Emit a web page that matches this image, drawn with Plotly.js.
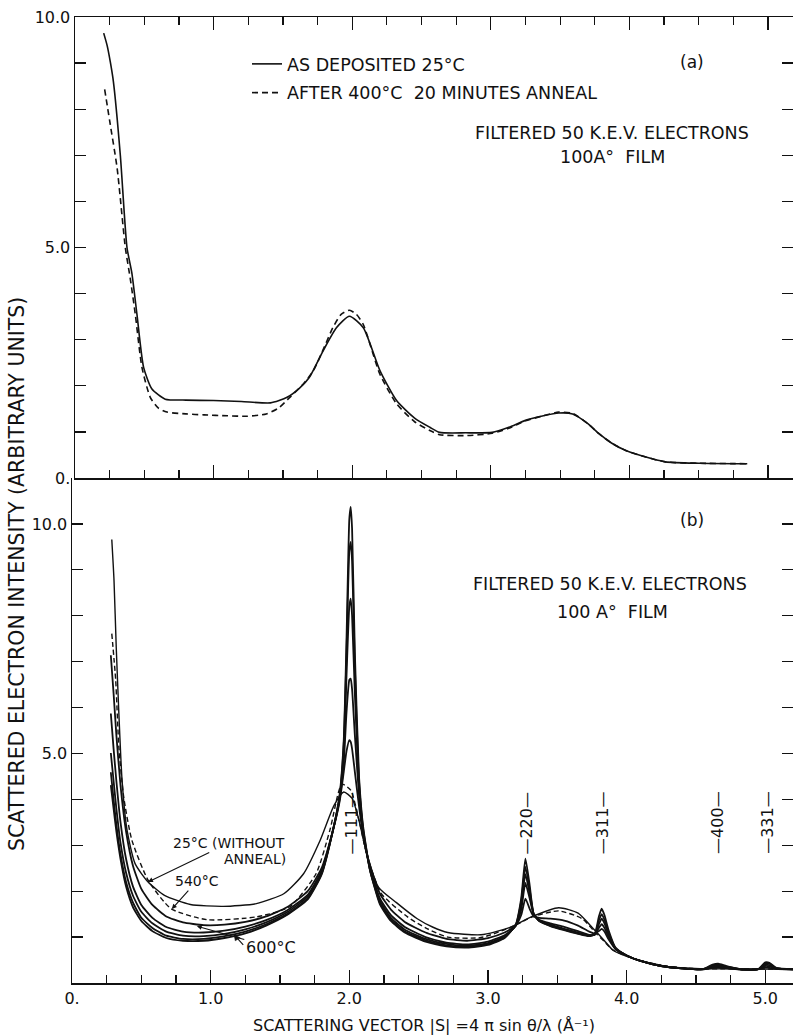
<!DOCTYPE html>
<html><head><meta charset="utf-8">
<script src="https://cdn.plot.ly/plotly-3.0.1.min.js"></script>
<style>html,body{margin:0;padding:0;background:#fff}</style>
</head><body><div id="chart" style="width:793px;height:1036px"></div>
<script>
// ---------- Panel (a) ----------
var topX_asDeposited = [0.207,0.232,0.255,0.277,0.327,0.375,0.41,0.447,0.495,0.555,0.651,0.8,1.0,1.2,1.41,1.53,1.62,1.69,1.79,1.886,1.98,2.08,2.2,2.32,2.45,2.56,2.63,2.82,3.01,3.13,3.25,3.38,3.49,3.59,3.7,3.78,3.87,3.97,4.1,4.26,4.5,4.85];
var topY_asDeposited = [9.65,9.38,9.02,8.6,7.0,5.0,4.45,3.55,2.4,1.93,1.71,1.69,1.68,1.66,1.63,1.75,1.95,2.18,2.76,3.26,3.51,3.26,2.33,1.68,1.3,1.10,0.99,0.98,0.99,1.1,1.25,1.35,1.41,1.39,1.18,0.96,0.76,0.60,0.47,0.35,0.32,0.31];
var topX_annealed = [0.214,0.25,0.304,0.363,0.40,0.435,0.483,0.543,0.6,0.663,0.8,0.93,1.1,1.24,1.38,1.47,1.55,1.65,1.72,1.80,1.86,1.92,1.98,2.03,2.08,2.2,2.32,2.45,2.56,2.63,2.82,3.01,3.13,3.25,3.38,3.49,3.59,3.7,3.78,3.87,3.97,4.1,4.26,4.5,4.85];
var topY_annealed = [8.43,7.75,6.72,5.0,4.3,3.55,2.4,1.75,1.52,1.43,1.39,1.37,1.35,1.34,1.39,1.52,1.75,2.05,2.33,2.85,3.26,3.55,3.64,3.55,3.33,2.25,1.61,1.22,1.03,0.94,0.92,0.97,1.08,1.24,1.35,1.43,1.40,1.18,0.96,0.76,0.60,0.47,0.35,0.32,0.31];

// ---------- Panel (b) ----------
var botX_25C = [0.287,0.303,0.319,0.338,0.361,0.397,0.455,0.549,0.667,0.854,1.09,1.33,1.53,1.67,1.79,1.89,1.96,2.02,2.07,2.12,2.21,2.34,2.49,2.6,2.71,2.95,3.15,3.32,3.51,3.65,3.76,3.84,3.90,4.05,4.29,4.53,4.8,5.2];
var botY_25C = [9.66,8.77,7.32,5.87,4.42,3.33,2.60,2.20,1.91,1.71,1.67,1.73,1.95,2.38,3.11,3.87,4.16,4.02,3.54,2.89,2.09,1.75,1.40,1.22,1.10,1.05,1.2,1.45,1.64,1.52,1.18,0.92,0.72,0.53,0.36,0.31,0.31,0.30];
var botX_dashed = [0.287,0.315,0.338,0.373,0.432,0.549,0.714,0.972,1.33,1.57,1.76,1.86,1.946,2.01,2.07,2.13,2.23,2.42,2.55,2.71,2.95,3.17,3.32,3.51,3.68,3.78,3.84,3.90,4.05,4.29,4.53,4.8,5.2];
var botY_dashed = [7.61,6.6,5.14,4.05,3.11,2.24,1.62,1.38,1.44,1.66,2.38,3.33,4.33,4.2,3.54,2.75,1.95,1.44,1.2,1.0,0.99,1.22,1.44,1.57,1.40,1.08,0.9,0.72,0.53,0.36,0.31,0.31,0.30];

var botX_annealed = [0.28,0.30,0.32,0.35,0.39,0.44,0.50,0.58,0.68,0.80,0.95,1.10,1.25,1.40,1.55,1.70,1.80,1.88,1.93,1.96,1.98,2.00,2.01,2.02,2.04,2.07,2.10,2.15,2.22,2.30,2.40,2.55,2.70,2.85,3.00,3.12,3.20,3.24,3.27,3.30,3.33,3.37,3.45,3.55,3.65,3.73,3.77,3.80,3.82,3.84,3.87,3.92,4.00,4.10,4.25,4.40,4.55,4.62,4.66,4.72,4.85,4.95,5.00,5.03,5.08,5.20];
var botY_annealC = [7.14,6.3,5.4,4.3,3.3,2.55,2.05,1.7,1.45,1.32,1.26,1.27,1.33,1.45,1.65,2.0,2.5,3.3,3.95,4.6,5.05,5.29,5.25,5.1,4.6,3.85,3.2,2.55,1.95,1.6,1.33,1.1,0.96,0.92,0.98,1.1,1.25,1.48,1.84,1.62,1.45,1.42,1.4,1.36,1.25,1.12,1.08,1.13,1.18,1.12,0.95,0.74,0.6,0.48,0.37,0.32,0.3,0.33,0.34,0.32,0.29,0.3,0.34,0.33,0.31,0.3];
var botY_annealD = [5.87,5.1,4.4,3.5,2.7,2.1,1.7,1.42,1.22,1.12,1.10,1.14,1.23,1.37,1.58,1.92,2.45,3.3,4.0,4.8,5.9,6.6,6.63,6.4,5.4,4.1,3.25,2.5,1.85,1.48,1.22,1.0,0.88,0.84,0.9,1.04,1.24,1.6,2.18,1.85,1.5,1.38,1.3,1.22,1.13,1.05,1.05,1.2,1.28,1.2,1.0,0.74,0.6,0.48,0.37,0.32,0.3,0.34,0.36,0.33,0.29,0.3,0.37,0.36,0.31,0.3];
var botY_annealE = [5.01,4.4,3.8,3.05,2.4,1.9,1.55,1.3,1.12,1.03,1.02,1.07,1.17,1.32,1.54,1.88,2.4,3.3,4.05,5.0,6.7,8.2,8.37,8.0,6.3,4.3,3.3,2.45,1.8,1.42,1.16,0.96,0.85,0.81,0.87,1.01,1.25,1.7,2.37,1.95,1.5,1.36,1.27,1.18,1.1,1.04,1.05,1.28,1.4,1.3,1.05,0.75,0.6,0.48,0.37,0.32,0.3,0.36,0.38,0.35,0.29,0.3,0.4,0.39,0.32,0.3];
var botY_annealF = [4.59,4.0,3.45,2.8,2.2,1.75,1.42,1.2,1.03,0.96,0.96,1.02,1.12,1.28,1.5,1.84,2.38,3.3,4.05,5.2,7.2,9.4,9.61,9.2,6.9,4.4,3.35,2.45,1.75,1.38,1.12,0.93,0.82,0.79,0.85,0.99,1.26,1.78,2.53,2.05,1.5,1.35,1.25,1.16,1.08,1.03,1.06,1.36,1.5,1.38,1.1,0.76,0.6,0.48,0.37,0.32,0.3,0.38,0.40,0.36,0.29,0.3,0.43,0.42,0.32,0.3];
var botY_annealG = [4.31,3.8,3.3,2.7,2.1,1.65,1.35,1.13,0.98,0.92,0.92,0.98,1.08,1.25,1.48,1.82,2.36,3.3,4.1,5.3,7.5,10.1,10.37,9.9,7.2,4.5,3.4,2.45,1.72,1.35,1.1,0.9,0.8,0.77,0.83,0.98,1.27,1.85,2.71,2.15,1.5,1.35,1.24,1.15,1.07,1.02,1.07,1.45,1.62,1.48,1.15,0.77,0.6,0.48,0.37,0.32,0.3,0.40,0.42,0.37,0.29,0.3,0.45,0.44,0.33,0.3];

var peakLabels = ['111','220','311','400','331'];
var peakS = [2.017,3.28,3.825,4.66,5.02];

var xTickVals = [0,1,2,3,4,5];
var xTickText = ['0.','1.0','2.0','3.0','4.0','5.0'];
var yTopTickVals = [0,5,10];
var yTopTickText = ['0.','5.0','10.0'];
var yBotTickVals = [5,10];
var yBotTickText = ['5.0','10.0'];

// ---------- helpers for pixel placement of text ----------
var W = 793, H = 1036, ML = 72, MR = 0, MT = 17, MB = 53;
function PX(px){ return (px - ML) / (W - ML - MR); }
function PY(py){ return (H - MB - py) / (H - MT - MB); }
var splitY = PY(478);
var XS = (W - ML - MR) / 5.2;          // px per x unit (bottom panel)
var YS = (983 - 478) / 11;             // px per y unit (bottom panel)

var FONT = 'DejaVu Sans, Liberation Sans, sans-serif';
var BLACK = '#111';

var traces = [];
traces.push({x: topX_asDeposited, y: topY_asDeposited, xaxis:'x2', yaxis:'y2', mode:'lines',
  name:'AS DEPOSITED 25°C', legendgroup:'a', line:{color:BLACK, width:1.6, shape:'spline', smoothing:0.6}});
traces.push({x: topX_annealed, y: topY_annealed, xaxis:'x2', yaxis:'y2', mode:'lines',
  name:'AFTER 400°C  20 MINUTES ANNEAL', legendgroup:'b', line:{color:BLACK, width:1.6, dash:'6px,4px', shape:'spline', smoothing:0.6}});

var annealed = [botY_annealC, botY_annealD, botY_annealE, botY_annealF, botY_annealG];
annealed.forEach(function(yy, i){
  traces.push({x: botX_annealed, y: yy, xaxis:'x', yaxis:'y', mode:'lines', showlegend:false,
    line:{color:BLACK, width:1.8, shape:'spline', smoothing:0.5}});
});
traces.push({x: botX_25C, y: botY_25C, xaxis:'x', yaxis:'y', mode:'lines', showlegend:false,
  line:{color:BLACK, width:1.4, shape:'spline', smoothing:0.6}});
traces.push({x: botX_dashed, y: botY_dashed, xaxis:'x', yaxis:'y', mode:'lines', showlegend:false,
  line:{color:BLACK, width:1.4, dash:'5px,3px', shape:'spline', smoothing:0.6}});

function xAxis(extra){
  var a = {showgrid:false, zeroline:false, showline:true, linecolor:BLACK, linewidth:1.5,
    ticks:'inside', ticklen:13, tickwidth:1.3, tickcolor:BLACK,
    tickfont:{family:FONT, size:16, color:BLACK},
    minor:{dtick:0.25, ticks:'inside', ticklen:8, tickwidth:1.2, tickcolor:BLACK, showgrid:false}};
  for (var k in extra) a[k] = extra[k];
  return a;
}
function yAxis(extra){
  var a = {showgrid:false, zeroline:false, showline:true, linecolor:BLACK, linewidth:1.5,
    ticks:'inside', ticklen:11, tickwidth:1.3, tickcolor:BLACK, mirror:'ticks',
    tickfont:{family:FONT, size:16, color:BLACK}, tickmode:'array',
    minor:{dtick:1, ticks:'inside', ticklen:11, tickwidth:1.3, tickcolor:BLACK, showgrid:false}};
  for (var k in extra) a[k] = extra[k];
  return a;
}

var annotations = [];
function txt(s, px, py, size, opts){
  var a = {text:s, xref:'paper', yref:'paper', x:PX(px), y:PY(py), showarrow:false,
    xanchor:'center', yanchor:'middle', font:{family:FONT, size:size, color:BLACK}};
  if (opts) for (var k in opts) a[k] = opts[k];
  annotations.push(a);
}
txt('(a)', 692, 62, 17);
txt('FILTERED 50 K.E.V. ELECTRONS', 612, 133, 17.5);
txt('100A°  FILM', 612, 157, 17.5);
txt('(b)', 692, 520, 17);
txt('FILTERED 50 K.E.V. ELECTRONS', 610, 584, 17.5);
txt('100 A°  FILM', 612, 612, 17.5);
txt('SCATTERED ELECTRON INTENSITY (ARBITRARY UNITS)', 17, 574, 20.5, {textangle:-90});
txt('SCATTERING VECTOR |S| =4 π sin θ/λ (Å⁻¹)', 424, 1025, 16);
txt('ANNEAL)', 255, 859, 14);

// peak index labels
peakLabels.forEach(function(lbl, i){
  annotations.push({text:'—' + lbl + '—', xref:'x', yref:'y', x: peakS[i], y: 3.49,
    showarrow:false, textangle:-90, xanchor:'center', yanchor:'middle',
    font:{family:FONT, size:16, color:BLACK}});
});

// labels with arrows pointing at curves (head in data units, text offset in px)
function callout(s, x, y, ax, ay, size, opts){
  var a = {text:s, xref:'x', yref:'y', x:x, y:y, ax:ax, ay:ay, showarrow:true,
    arrowhead:2, arrowsize:0.9, arrowwidth:1.1, arrowcolor:BLACK, standoff:0,
    font:{family:FONT, size:size, color:BLACK}};
  if (opts) for (var k in opts) a[k] = opts[k];
  annotations.push(a);
}
callout('25°C (WITHOUT', 0.548, 2.20, 81, -39, 14);
callout('540°C', 0.72, 1.61, 25, -28, 14);
callout('600°C', 0.90, 1.24, 74, 21, 16);

// second short arrow from the 600°C label, drawn as a shape
var hx = 1.17, hy = 1.05;            // arrow head on the curve cluster
var tx = hx + 9 / XS, ty = hy - 10 / YS;
var shapes = [
  {type:'line', xref:'x', yref:'y', x0:tx, y0:ty, x1:hx, y1:hy, line:{color:BLACK, width:1.1}},
  {type:'path', xref:'x', yref:'y',
   path:'M' + hx + ',' + hy + ' L' + (hx + 1 / XS) + ',' + (hy - 6 / YS) + ' L' + (hx + 6 / XS) + ',' + (hy - 3 / YS) + ' Z',
   fillcolor:BLACK, line:{color:BLACK, width:0.5}}
];

var layout = {
  width: W, height: H,
  margin:{l:ML, r:MR, t:MT, b:MB, pad:0},
  paper_bgcolor:'#fff', plot_bgcolor:'#fff',
  font:{family:FONT, color:BLACK},
  showlegend:true,
  legend:{x:PX(247), y:PY(46), xanchor:'left', yanchor:'top', bgcolor:'rgba(0,0,0,0)',
    font:{family:FONT, size:17.5, color:BLACK}, traceorder:'grouped', tracegroupgap:3, itemwidth:30},
  xaxis: xAxis({domain:[0,1], anchor:'y', range:[0,5.2], tickmode:'array', tickvals:xTickVals, ticktext:xTickText, mirror:false}),
  yaxis: yAxis({domain:[0, splitY], anchor:'x', range:[0,11], tickvals:yBotTickVals, ticktext:yBotTickText}),
  xaxis2: xAxis({domain:[3/721,1], anchor:'y2', range:[0,5.18], tickmode:'array', tickvals:xTickVals, showticklabels:false, mirror:'ticks'}),
  yaxis2: yAxis({domain:[splitY,1], anchor:'x2', range:[0,10], tickvals:yTopTickVals, ticktext:yTopTickText}),
  annotations: annotations,
  shapes: shapes
};

Plotly.newPlot('chart', traces, layout, {displayModeBar:false, staticPlot:true});
</script></body></html>
